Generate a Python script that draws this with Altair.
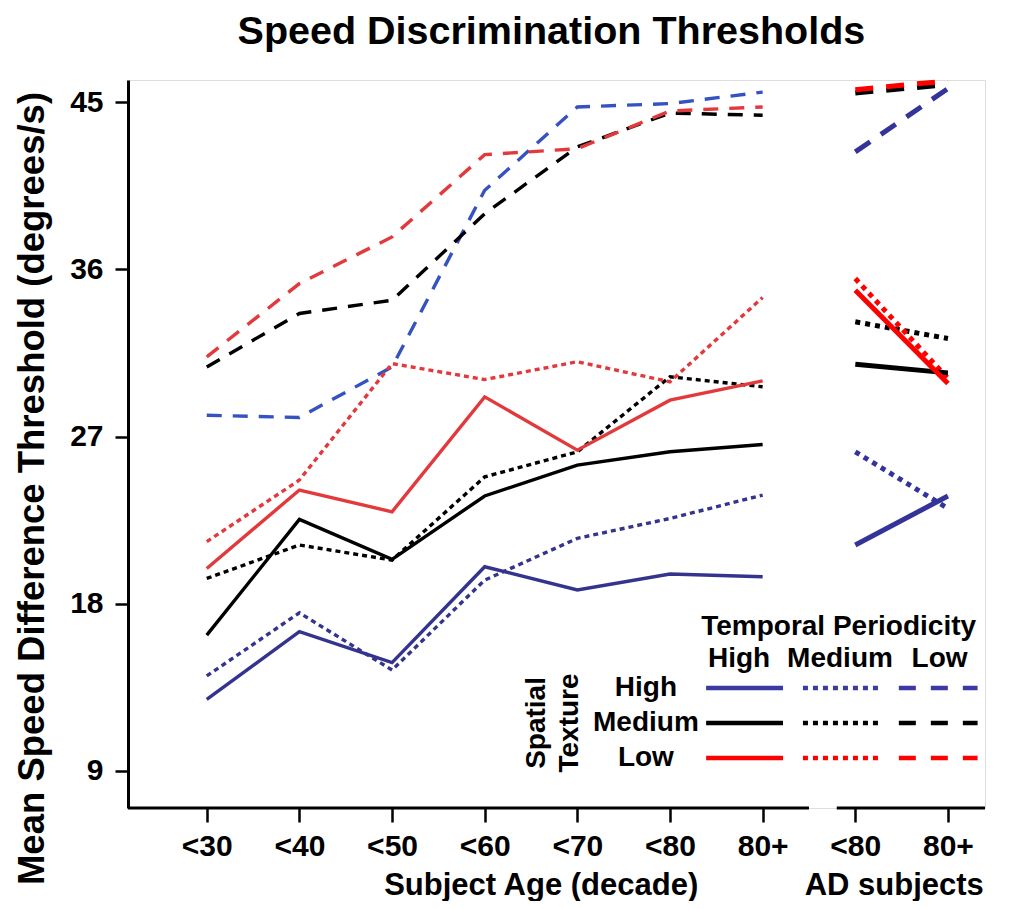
import altair as alt
import pandas as pd

# ---------------- data ----------------
chart_title = "Speed Discrimination Thresholds"
age_labels = ["<30", "<40", "<50", "<60", "<70", "<80", "80+"]
ad_labels = ["<80", "80+"]
spatial_levels = ["High", "Medium", "Low"]
temporal_levels = ["High", "Medium", "Low"]

# normal subjects: (spatial texture, temporal periodicity)
main_high_high = [12.85, 16.5, 14.83, 19.99, 18.74, 19.6, 19.45]
main_high_med = [14.11, 17.51, 14.43, 19.27, 21.52, 22.59, 23.85]
main_high_low = [28.15, 28.03, 30.75, 40.26, 44.75, 44.93, 45.55]
main_med_high = [16.31, 22.54, 20.39, 23.8, 25.46, 26.18, 26.57]
main_med_med = [19.36, 21.16, 20.35, 24.83, 26.18, 30.22, 29.68]
main_med_low = [30.75, 33.63, 34.34, 39.0, 42.6, 44.42, 44.3]
main_low_high = [19.9, 24.12, 22.95, 29.14, 26.27, 28.96, 30.0]
main_low_med = [21.34, 24.66, 30.93, 30.07, 31.03, 29.95, 34.49]
main_low_low = [31.29, 35.24, 37.75, 42.18, 42.5, 44.53, 44.75]

# AD subjects
ad_high_high = [21.16, 23.8]
ad_high_med = [26.18, 23.13]
ad_high_low = [42.33, 45.74]
ad_med_high = [30.9, 30.43]
ad_med_med = [33.18, 32.28]
ad_med_low = [45.5, 45.95]
ad_low_high = [34.88, 29.86]
ad_low_med = [35.51, 30.13]
ad_low_low = [45.68, 46.15]

y_ticks = [9, 18, 27, 36, 45]

main_series = {
    ("High", "High"): main_high_high, ("High", "Medium"): main_high_med, ("High", "Low"): main_high_low,
    ("Medium", "High"): main_med_high, ("Medium", "Medium"): main_med_med, ("Medium", "Low"): main_med_low,
    ("Low", "High"): main_low_high, ("Low", "Medium"): main_low_med, ("Low", "Low"): main_low_low,
}
ad_series = {
    ("High", "High"): ad_high_high, ("High", "Medium"): ad_high_med, ("High", "Low"): ad_high_low,
    ("Medium", "High"): ad_med_high, ("Medium", "Medium"): ad_med_med, ("Medium", "Low"): ad_med_low,
    ("Low", "High"): ad_low_high, ("Low", "Medium"): ad_low_med, ("Low", "Low"): ad_low_low,
}

# ---------------- styles ----------------
main_colors = {"High": "#34348f", "Medium": "#000000", "Low": "#e23a3c"}
main_blue_dashed = "#3552c2"
ad_colors = {"High": "#33339a", "Medium": "#000000", "Low": "#ff0000"}
legend_colors = {"High": "#3a3aa2", "Medium": "#000000", "Low": "#ff0000"}
main_dash = {"High": None, "Medium": [5, 4], "Low": [15, 11]}
ad_dash = {"High": None, "Medium": [5, 5], "Low": [18, 13]}
legend_dash = {"High": None, "Medium": [5, 5], "Low": [17, 15]}

all_labels = [""] + age_labels + ad_labels
positions = list(range(1, len(age_labels) + len(ad_labels) + 1))

rows = []
for (sp, tp), vals in main_series.items():
    col = main_blue_dashed if (sp == "High" and tp == "Low") else main_colors[sp]
    for i, v in enumerate(vals):
        rows.append({"panel": "main", "spatial": sp, "temporal": tp, "x": i + 1, "y": v,
                     "color": col, "series": f"main-{sp}-{tp}"})
for (sp, tp), vals in ad_series.items():
    for i, v in enumerate(vals):
        rows.append({"panel": "ad", "spatial": sp, "temporal": tp, "x": len(age_labels) + i + 1, "y": v,
                     "color": ad_colors[sp], "series": f"ad-{sp}-{tp}"})
df = pd.DataFrame(rows)

# ---------------- scales / axes ----------------
x_scale = alt.Scale(domain=[0.15, 9.4], nice=False, zero=False)
y_scale = alt.Scale(domain=[7, 46.2], nice=False, zero=False)
label_array = "[" + ",".join(f"'{l}'" for l in all_labels) + "]"

X = alt.X("x:Q", scale=x_scale, title=None,
          axis=alt.Axis(values=positions, labelExpr=f"{label_array}[datum.value]",
                        domain=False, grid=False, ticks=True, tickSize=14, tickWidth=2.5,
                        tickColor="black", labelFontSize=30, labelFont="Liberation Sans",
                        labelFontWeight="bold", labelColor="black", labelPadding=9,
                        labelFlush=False, labelOverlap=False))
Y = alt.Y("y:Q", scale=y_scale,
          axis=alt.Axis(values=y_ticks, title="Mean Speed Difference Threshold (degrees/s)",
                        titleFontSize=36.5, titleFont="Liberation Sans", titleFontWeight="bold",
                        titleColor="black", titlePadding=18, titleY=408,
                        grid=False, domainWidth=3, domainColor="black", tickSize=13,
                        tickWidth=2.5, tickColor="black", labelFontSize=30,
                        labelFont="Liberation Sans", labelFontWeight="bold",
                        labelColor="black", labelPadding=12))

layers = []

# axis line segments (broken x axis)
axis_df = pd.DataFrame({"x": [0.15, 7.8], "x2": [7.5, 9.4], "y": [7, 7]})
layers.append(alt.Chart(axis_df).mark_rule(color="black", strokeWidth=3).encode(
    x=X, x2="x2:Q", y=Y))

def add_lines(sub, dash, width):
    kw = {"strokeWidth": width, "clip": False}
    if dash:
        kw["strokeDash"] = dash
    return alt.Chart(sub).mark_line(**kw).encode(
        x=X, y=Y, color=alt.Color("color:N", scale=None),
        detail="series:N", order="x:Q")

for tp in ["Low", "Medium", "High"]:
    layers.append(add_lines(df[(df.panel == "main") & (df.temporal == tp)], main_dash[tp], 3.4))
for tp in ["Low", "Medium", "High"]:
    layers.append(add_lines(df[(df.panel == "ad") & (df.temporal == tp)], ad_dash[tp], 5))

# ---------------- legend (in data coordinates) ----------------
legend_row_y = {"High": 13.46, "Medium": 11.58, "Low": 9.69}
legend_col_x = {"High": (6.39, 7.22), "Medium": (7.435, 8.277), "Low": (8.47, 9.32)}
leg_rows = []
for sp in spatial_levels:
    for tp in temporal_levels:
        leg_rows.append({"x": legend_col_x[tp][0], "x2": legend_col_x[tp][1],
                         "y": legend_row_y[sp], "color": legend_colors[sp], "temporal": tp})
leg_df = pd.DataFrame(leg_rows)
for tp in temporal_levels:
    kw = {"strokeWidth": 4.5}
    if legend_dash[tp]:
        kw["strokeDash"] = legend_dash[tp]
    layers.append(alt.Chart(leg_df[leg_df.temporal == tp]).mark_rule(**kw).encode(
        x=X, x2="x2:Q", y=Y, color=alt.Color("color:N", scale=None)))

text_rows = [
    {"text": "Temporal Periodicity", "x": 7.82, "y": 16.75},
    {"text": "High", "x": 6.745, "y": 15.02},
    {"text": "Medium", "x": 7.835, "y": 15.02},
    {"text": "Low", "x": 8.91, "y": 15.02},
]
for sp in spatial_levels:
    text_rows.append({"text": sp, "x": 5.74, "y": legend_row_y[sp]})
text_df = pd.DataFrame(text_rows)
layers.append(alt.Chart(text_df).mark_text(
    fontSize=28, font="Liberation Sans", fontWeight="bold", color="black",
    align="center", baseline="middle").encode(x=X, y=Y, text="text:N"))

rot_df = pd.DataFrame({"text": ["Spatial", "Texture"], "x": [4.56, 4.92], "y": [11.58, 11.58]})
layers.append(alt.Chart(rot_df).mark_text(
    fontSize=28, font="Liberation Sans", fontWeight="bold", color="black",
    align="center", baseline="middle", angle=270).encode(x=X, y=Y, text="text:N"))

# x axis group titles
xt_df = pd.DataFrame({"text": ["Subject Age (decade)", "AD subjects"], "x": [4.61, 8.42], "y": [7, 7]})
layers.append(alt.Chart(xt_df).mark_text(
    fontSize=31, font="Liberation Sans", fontWeight="bold", color="black",
    align="center", baseline="middle", dy=78).encode(x=X, y=Y, text="text:N"))

# chart title as a text mark anchored on top of the plot area
title_df = pd.DataFrame({"text": [chart_title], "x": [4.72], "y": [46.2]})
layers.append(alt.Chart(title_df).mark_text(
    fontSize=39.5, font="Liberation Sans", fontWeight="bold", color="black",
    align="center", baseline="alphabetic", dy=-36).encode(x=X, y=Y, text="text:N"))

chart = alt.layer(*layers).properties(
    width=857, height=728,
    autosize=alt.AutoSizeParams(type="none"),
    padding={"left": 120, "top": 72, "right": 20, "bottom": 93},
).configure_view(stroke=None).configure(background="white")

chart.save("out.html", embed_options={"renderer": "svg", "actions": False})
